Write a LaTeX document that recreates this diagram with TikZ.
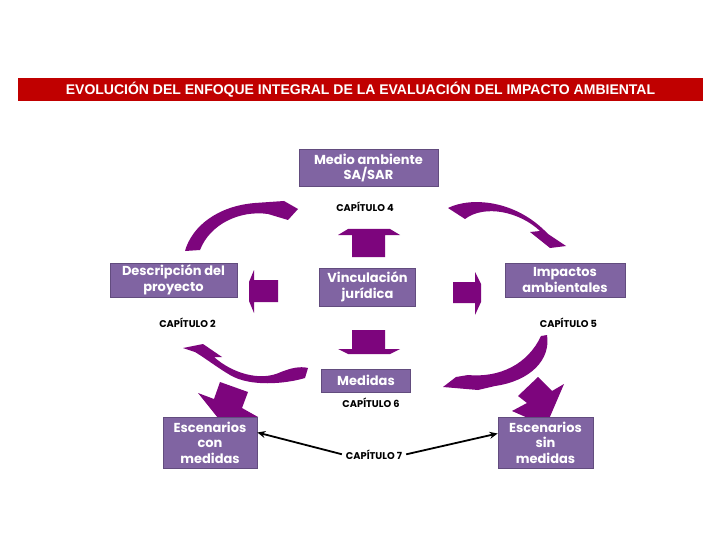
\documentclass[tikz,border=0pt]{standalone}
\usepackage{fontspec}
\setmainfont{Liberation Sans}
\newfontfamily\gothic{Poppins}
\usetikzlibrary{arrows.meta}
\definecolor{boxpurple}{RGB}{128,100,162}
\definecolor{boxline}{RGB}{98,76,126}
\definecolor{arrowpurple}{RGB}{125,5,125}
\definecolor{titlered}{RGB}{192,0,0}

\tikzset{
  etapa/.style={draw=boxline, fill=boxpurple, text=white, line width=0.8pt,
    font=\gothic\bfseries\fontsize{13}{15.5}\selectfont, align=center, inner sep=0pt},
  capitulo/.style={font=\gothic\bfseries\fontsize{9.8}{11}\selectfont, inner sep=1pt},
  flecha/.style={fill=arrowpurple, draw=none},
  enlace/.style={line width=1.8pt, shorten <=3pt, -{Stealth[length=8pt,width=7pt]}}
}

\begin{document}
\begin{tikzpicture}[x=1pt,y=-1pt]
\fill[white] (0,0) rectangle (720,540);
\useasboundingbox (0,0) rectangle (720,540);

% Title
\node[fill=titlered, text=white, minimum width=685pt, minimum height=23pt,
  font=\bfseries\fontsize{14}{16}\selectfont] (titulo) at (360.5,89.5)
  {EVOLUCIÓN DEL ENFOQUE INTEGRAL DE LA EVALUACIÓN DEL IMPACTO AMBIENTAL};

% Block arrows around the centre
\fill[flecha] (352,257) -- (352,235) -- (338,235) -- (348,229) -- (390,229) -- (400,235) -- (385,235) -- (385,257) -- cycle;
\fill[flecha] (352,330) -- (352,349) -- (338,349) -- (348,354) -- (390,354) -- (400,349) -- (385,349) -- (385,330) -- cycle;
\fill[flecha] (278,280) -- (254,280) -- (254,270) -- (249,282) -- (249,301) -- (254,313) -- (254,302) -- (278,302) -- cycle;
\fill[flecha] (453,282) -- (475,282) -- (475,272) -- (481,284) -- (481,302) -- (475,315) -- (475,303) -- (453,303) -- cycle;

% Curved arrows
\fill[flecha] (185,251) .. controls (192,226) and (218,206) .. (255,203) -- (284,201) -- (298,209) -- (288,220)
  -- (268,214) .. controls (240,210) and (210,224) .. (200,250) -- cycle;
\fill[flecha] (448,208) .. controls (470,197) and (515,199) .. (548,234) -- (566,246) -- (550,248) -- (530,232)
  -- (540,231) .. controls (520,212) and (485,204) .. (465,219) -- cycle;
\fill[flecha] (183,348) -- (203,344) -- (222,357) -- (214,357) .. controls (232,373) and (260,382) .. (281,372)
  .. controls (291,368) and (300,366) .. (308,368) -- (305,378) .. controls (285,384) and (250,387) .. (230,375)
  .. controls (218,368) and (205,358) .. (195,352) -- cycle;
\fill[flecha] (541,336) -- (547,335) .. controls (551,360) and (530,381) .. (495,386) -- (478,390) -- (443,387)
  -- (456,377) -- (468,375) .. controls (500,378) and (528,364) .. (541,336) -- cycle;

% Arrows down to the scenarios
\fill[flecha] (220,382) -- (248,392) -- (242,408) -- (258,417) -- (226,428) -- (198,393) -- (214,399) -- cycle;
\fill[flecha] (518,396) -- (538,377) -- (552,391) -- (564,384) -- (546,426) -- (512,411) -- (527,403) -- cycle;

% Stages
\node[etapa, minimum width=139pt, minimum height=37pt] (medio) at (368.5,168) {Medio ambiente\\SA/SAR};
\node[etapa, minimum width=127pt, minimum height=34pt] (descripcion) at (173.5,280) {Descripción del\\proyecto};
\node[etapa, minimum width=96pt, minimum height=38pt] (vinculacion) at (367.5,287) {Vinculación\\jurídica};
\node[etapa, minimum width=120pt, minimum height=34pt] (impactos) at (565,280) {Impactos\\ambientales};
\node[etapa, minimum width=89pt, minimum height=23pt] (medidas) at (366,380.5) {Medidas};
\node[etapa, minimum width=94pt, minimum height=51pt] (esccon) at (210,442.5) {Escenarios\\con\\medidas};
\node[etapa, minimum width=95pt, minimum height=51pt] (escsin) at (545.5,442.5) {Escenarios\\sin\\medidas};

% Chapters
\node[capitulo] (cap4) at (365,207) {CAPÍTULO 4};
\node[capitulo] (cap2) at (187.5,323) {CAPÍTULO 2};
\node[capitulo] (cap5) at (568.5,323) {CAPÍTULO 5};
\node[capitulo] (cap6) at (371,403) {CAPÍTULO 6};
\node[capitulo] (cap7) at (374,455) {CAPÍTULO 7};

\draw[enlace] (cap7.west) -- ([yshift=10pt]esccon.east);
\draw[enlace] (cap7.east) -- ([yshift=9pt]escsin.west);
\end{tikzpicture}
\end{document}
